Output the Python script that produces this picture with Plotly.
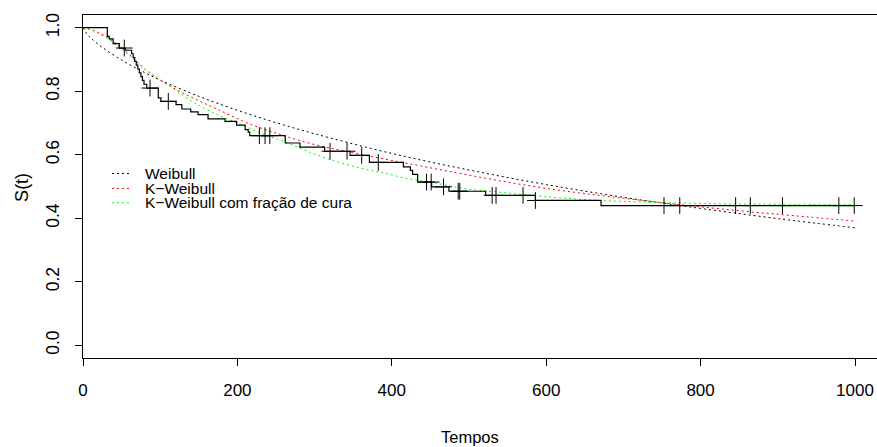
import plotly.graph_objects as go

# Kaplan-Meier estimate (step change points)
km_time = [0, 31.5, 34, 39, 47, 55, 63, 65, 67, 69, 71, 73, 75, 77, 79, 82.5,
           97.5, 101, 120.5, 128, 139.5, 149, 162, 184, 199, 210, 214, 216,
           262, 281, 313, 346, 371, 415, 424, 427, 433.5, 451.6, 474, 521.6,
           586, 671, 1000]
km_surv = [1.0, 0.973, 0.965, 0.950, 0.936, 0.929, 0.918, 0.906, 0.894, 0.882,
           0.870, 0.858, 0.846, 0.834, 0.822, 0.810,
           0.779, 0.768, 0.758, 0.744, 0.735, 0.726, 0.713, 0.705, 0.693, 0.679,
           0.671, 0.660,
           0.637, 0.624, 0.611, 0.598, 0.576, 0.562, 0.551, 0.538, 0.514, 0.499,
           0.485, 0.472, 0.456, 0.440, 0.440]

# censored observations
cens_time = [53.5, 86.8, 110.5, 228.5, 235.8, 242, 320, 342, 361, 382.5, 445, 451,
             467, 486, 488, 530, 535, 570, 586, 752.6, 773, 845.4, 864.4, 906,
             979, 999]
cens_surv = [0.936, 0.810, 0.768, 0.660, 0.660, 0.660, 0.611, 0.611, 0.598,
             0.576, 0.514, 0.514, 0.499, 0.485, 0.485, 0.472, 0.472, 0.472,
             0.456, 0.440, 0.440, 0.440, 0.440, 0.440, 0.440, 0.440]

# fitted curves
wei_time = [0, 5, 10, 25, 50, 75, 100, 150, 200, 250, 300, 400, 500, 600, 700, 800, 900, 1000]
wei_surv = [1.0, 0.981, 0.968, 0.938, 0.898, 0.865, 0.835, 0.784, 0.740, 0.701,
            0.666, 0.604, 0.552, 0.506, 0.466, 0.431, 0.399, 0.370]

kw_time = [0, 10, 20, 30, 40, 52, 65, 80, 100, 125, 150, 175, 216, 260, 300, 346,
           415, 480, 540, 600, 669, 735, 800, 870, 940, 1000]
kw_surv = [1.0, 0.994, 0.985, 0.972, 0.955, 0.933, 0.905, 0.870, 0.835, 0.800,
           0.770, 0.742, 0.697, 0.660, 0.632, 0.608, 0.575, 0.545, 0.518, 0.494,
           0.472, 0.453, 0.436, 0.419, 0.404, 0.391]

kwc_time = [0, 10, 20, 35, 50, 65, 80, 100, 113, 140, 169, 200, 230, 259, 290, 320,
            359, 389, 420, 454, 492, 540, 609, 669, 740, 820, 900, 1000]
kwc_surv = [1.0, 0.994, 0.982, 0.960, 0.932, 0.900, 0.870, 0.835, 0.815, 0.770,
            0.732, 0.700, 0.668, 0.643, 0.612, 0.585, 0.558, 0.543, 0.525, 0.512,
            0.494, 0.482, 0.466, 0.456, 0.450, 0.446, 0.444, 0.443]

legend_labels = ["Weibull", "K\u2212Weibull", "K\u2212Weibull com fração de cura"]
legend_colors = ["black", "red", "#00ff00"]

x_ticks = [0, 200, 400, 600, 800, 1000]
y_ticks = [0.0, 0.2, 0.4, 0.6, 0.8, 1.0]

FONT = "Liberation Sans, Arial, sans-serif"
DOT = "2px,3px"

fig = go.Figure()
fig.add_trace(go.Scatter(x=wei_time, y=wei_surv, mode="lines", line_shape="spline",
                         line=dict(color="black", width=1, dash=DOT)))
fig.add_trace(go.Scatter(x=kw_time, y=kw_surv, mode="lines", line_shape="spline",
                         line=dict(color="red", width=1, dash=DOT)))
fig.add_trace(go.Scatter(x=kwc_time, y=kwc_surv, mode="lines", line_shape="spline",
                         line=dict(color="#00ff00", width=1, dash=DOT)))
fig.add_trace(go.Scatter(x=km_time, y=km_surv, mode="lines", line_shape="hv",
                         line=dict(color="black", width=1.2)))
fig.add_trace(go.Scatter(x=cens_time, y=cens_surv, mode="markers",
                         marker=dict(symbol="cross-thin", size=12,
                                     line=dict(color="black", width=1))))

# legend (manual, R style)
leg_rows = [0.541, 0.494, 0.449]
for lab, col, yy in zip(legend_labels, legend_colors, leg_rows):
    fig.add_shape(type="line", xref="x", yref="y", x0=37.6, x1=63.5, y0=yy, y1=yy,
                  line=dict(color=col, width=1, dash=DOT))
    fig.add_annotation(x=78.1, y=yy, xref="x", yref="y", text=lab, showarrow=False,
                       xanchor="left", yanchor="middle",
                       font=dict(family=FONT, size=15.5, color="black"))

# axis titles placed as in the reference
fig.add_annotation(x=0.487, y=-0.23, xref="paper", yref="paper", text="Tempos",
                   showarrow=False, xanchor="center", yanchor="middle",
                   font=dict(family=FONT, size=16.5, color="black"))
fig.add_annotation(x=-0.077, y=0.4985, xref="paper", yref="paper", text="S(t)",
                   showarrow=False, xanchor="center", yanchor="middle", textangle=-90,
                   font=dict(family=FONT, size=18, color="black"))

fig.update_layout(
    width=877, height=447,
    margin=dict(l=83, r=0, t=15, b=89),
    plot_bgcolor="white", paper_bgcolor="white",
    showlegend=False,
    font=dict(family=FONT, size=15, color="black"),
    xaxis=dict(range=[0, 1028.5], tickvals=x_ticks, ticks="outside", ticklen=7,
               tickcolor="black", showline=True, linecolor="black", linewidth=1,
               mirror=True, showgrid=False, zeroline=False,
               ticklabelstandoff=10, tickfont=dict(size=17)),
    yaxis=dict(range=[-0.04, 1.04], tickvals=y_ticks,
               ticktext=[f"{v:.1f}" for v in y_ticks], ticks="outside", ticklen=7,
               tickcolor="black", showline=True, linecolor="black", linewidth=1,
               showgrid=False, zeroline=False, tickangle=-90,
               ticklabelstandoff=9, tickfont=dict(size=17.5)),
)

fig.write_html("out.html")
